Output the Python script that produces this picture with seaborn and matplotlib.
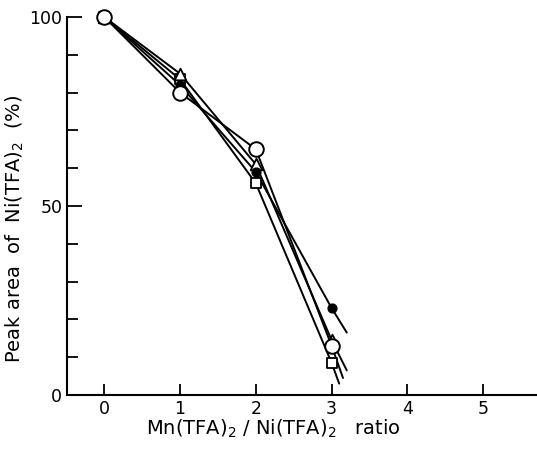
import numpy as np
import pandas as pd
import matplotlib
matplotlib.use("Agg")
import matplotlib.pyplot as plt
import seaborn as sns

# Mn(TFA)2 / Ni(TFA)2 ratio
ratio = [0, 1, 2, 3]

# peak area of Ni(TFA)2 (%) for each series
open_circle = [100, 80, 65, 13]
filled_circle = [100, 82, 59, 23]
triangle = [100, 85, 61, 14.5]
square = [100, 83.5, 56, 8.5]

# where each drawn line runs out past the last point
tail_x = [3.15, 3.2, 3.2, 3.1]
tail_y = [4.5, 16.5, 6.5, 3]

names = ["open_circle", "filled_circle", "triangle", "square"]
values = [open_circle, filled_circle, triangle, square]

pts = pd.concat([pd.DataFrame({"ratio": ratio, "area": v, "series": n})
                 for n, v in zip(names, values)], ignore_index=True)
lines = pd.concat([pd.DataFrame({"ratio": ratio + [tx], "area": v + [ty], "series": n})
                   for n, v, tx, ty in zip(names, values, tail_x, tail_y)], ignore_index=True)

sns.set_style("ticks", {"text.color": "black", "axes.labelcolor": "black",
                        "xtick.color": "black", "ytick.color": "black"})
plt.rcParams['font.family'] = ['DejaVu Sans']

fig = plt.figure(figsize=(5.37, 4.54), dpi=100)
ax = fig.add_axes([0.125, 0.13, 0.875, 0.8326])

sns.lineplot(data=lines, x="ratio", y="area", units="series", estimator=None,
             color="black", linewidth=1.4, sort=False, ax=ax)

styles = {
    "open_circle": dict(marker="o", s=110, facecolor="white", edgecolor="black", linewidth=1.4, zorder=6),
    "filled_circle": dict(marker="o", s=40, facecolor="black", edgecolor="black", linewidth=1, zorder=5),
    "triangle": dict(marker="^", s=70, facecolor="white", edgecolor="black", linewidth=1.3, zorder=4),
    "square": dict(marker="s", s=45, facecolor="white", edgecolor="black", linewidth=1.3, zorder=3),
}
for n in names:
    sns.scatterplot(data=pts[pts["series"] == n], x="ratio", y="area", ax=ax,
                    clip_on=False, **styles[n])

ax.set_xlim(-0.49, 5.71)
ax.set_ylim(0, 100)
ax.set_xticks([0, 1, 2, 3, 4, 5])
ax.set_yticks([0, 50, 100])
ax.set_yticks(np.arange(10, 100, 10), minor=True)
ax.tick_params(axis="both", which="major", direction="in", length=8, width=1.3,
               labelsize=12.5, colors="black")
ax.tick_params(axis="y", which="minor", direction="in", length=8, width=1.3)
ax.tick_params(axis="y", which="major", length=11)

for s in ["top", "right"]:
    ax.spines[s].set_visible(False)
for s in ["left", "bottom"]:
    ax.spines[s].set_linewidth(1.5)
    ax.spines[s].set_color("black")

ax.set_xlabel(r"Mn(TFA)$_2$ / Ni(TFA)$_2$   ratio", fontsize=14, labelpad=0, x=0.44)
ax.set_ylabel(r"Peak area  of  Ni(TFA)$_2$  (%)", fontsize=14, labelpad=2, y=0.44)

fig.savefig("out.png", dpi=100)
